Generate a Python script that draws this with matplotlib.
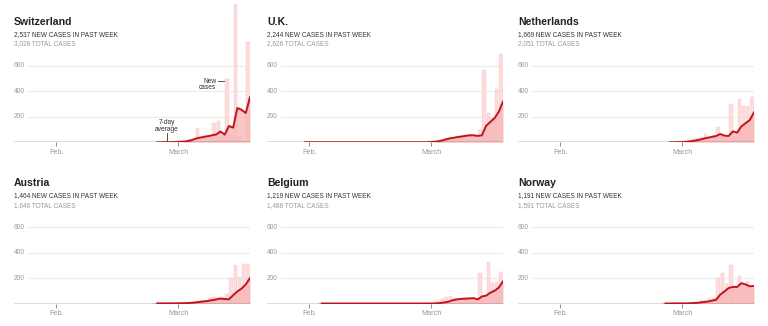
import matplotlib
matplotlib.use('Agg')
import matplotlib.pyplot as plt
import numpy as np

# --- Dados (dia 0 = 1 de fevereiro) ---
countries = ["Switzerland", "U.K.", "Netherlands", "Austria", "Belgium", "Norway"]
week_cases = ["2,537", "2,244", "1,669", "1,464", "1,219", "1,191"]
total_cases = ["3,028", "2,626", "2,051", "1,646", "1,486", "1,591"]
first_day = [24, -1, 26, 24, 3, 25]
last_day = 46

avg_switzerland = [0, 0, 1, 1, 2, 3, 5, 8, 15, 28, 36, 42, 48, 55, 62, 85,
                   60, 128, 115, 270, 255, 230, 355]
new_switzerland = [1, 0, 8, 0, 5, 8, 10, 6, 25, 20, 110, 30, 60, 40, 150, 165,
                   45, 500, 60, 1090, 40, 12, 790]

avg_uk = [0.3] * 30 + [3, 5, 10, 18, 28, 34, 40, 45, 50, 55, 55, 50, 55, 130,
                       160, 190, 240, 320]
new_uk = [2, 0, 0, 0, 0, 0, 0, 1, 0, 1, 1, 0, 0, 0, 0, 0, 0, 0, 0, 0, 0, 0, 0,
          0, 0, 0, 0, 4, 0, 3, 10, 5, 12, 20, 30, 40, 35, 50, 45, 60, 60, 48,
          100, 565, 233, 190, 418, 690]

avg_netherlands = [0, 0, 1, 2, 4, 8, 13, 20, 28, 36, 42, 49, 65, 52, 50, 86,
                   76, 125, 150, 175, 235]
new_netherlands = [0, 1, 4, 6, 10, 18, 25, 30, 40, 67, 45, 60, 119, 40, 50,
                   303, 50, 341, 287, 283, 355]

avg_austria = [1, 1, 1, 1, 1, 2, 2, 3, 5, 8, 12, 16, 20, 26, 32, 39, 35, 33,
               65, 95, 117, 150, 200]
new_austria = [2, 0, 1, 1, 3, 4, 1, 8, 8, 12, 20, 25, 30, 40, 50, 52, 55, 77,
               200, 300, 208, 312, 312]

avg_belgium = [0.2] * 26 + [0, 1, 3, 8, 14, 25, 32, 36, 38, 40, 42, 32, 55,
                            62, 85, 100, 125, 174]
new_belgium = [1] + [0] * 24 + [1, 1, 6, 20, 35, 55, 60, 40, 30, 45, 40, 35,
                                20, 237, 60, 328, 160, 169, 245]

avg_norway = [0, 0, 1, 1, 1, 1, 2, 4, 7, 11, 15, 22, 29, 70, 95, 122, 130,
              130, 160, 150, 135, 138]
new_norway = [1, 0, 1, 2, 0, 2, 5, 8, 15, 25, 30, 45, 40, 200, 240, 150, 300,
              120, 213, 110, 174, 124]

avg_series = [avg_switzerland, avg_uk, avg_netherlands,
              avg_austria, avg_belgium, avg_norway]
new_series = [new_switzerland, new_uk, new_netherlands,
              new_austria, new_belgium, new_norway]

month_ticks = [0, 29]
month_labels = ["Feb.", "March"]
grid_values = [200, 400, 600]

# --- Layout (pixels) ---
W, H = 768, 326
col_left = [14, 267, 518]
row_base = [142.3, 303.5]
ax_w, ax_h = 236, 140
y_top = 1100

plt.rcParams['font.family'] = ['Liberation Sans', 'DejaVu Sans']

fig = plt.figure(figsize=(W / 100, H / 100), dpi=100)
fig.patch.set_facecolor('white')

RED = '#c0141d'
FILL = '#f7b3b3'
BAR = '#fcdcdc'
GRID = '#ececec'
GRAY = '#999999'

for i, name in enumerate(countries):
    r, c = divmod(i, 3)
    left = col_left[c]
    base = row_base[r]
    ax = fig.add_axes([left / W, (H - base) / H, ax_w / W, ax_h / H])
    ax.set_facecolor('none')
    ax.set_xlim(-10, last_day)
    ax.set_ylim(0, y_top)

    days = np.arange(first_day[i], last_day + 1)
    avg = np.array(avg_series[i], dtype=float)
    new = np.array(new_series[i], dtype=float)

    # grelha com etiquetas à esquerda
    for g in grid_values:
        ax.axhline(g, xmin=0.058, xmax=1, color=GRID, lw=0.8, zorder=0)
        ax.text(-10, g, str(g), fontsize=4.8, color=GRAY, va='center',
                ha='left')

    # barras diárias e média de 7 dias
    ax.bar(days - 0.5, new, width=0.8, color=BAR,
           edgecolor='#f9c6c6', lw=0.3, zorder=1)
    ax.fill_between(days, 0, avg, color=FILL, alpha=0.75, lw=0, zorder=2)
    ax.axhline(0, color='#555555', lw=1.0, zorder=3)
    ax.plot(days, avg, color=RED, lw=1.4, zorder=4, solid_joinstyle='round')

    ax.set_xticks(month_ticks)
    ax.set_xticklabels(month_labels, fontsize=5.2, color=GRAY)
    ax.tick_params(axis='x', length=3, width=0.6, color='#777777', pad=2)
    ax.set_yticks([])
    for s in ax.spines.values():
        s.set_visible(False)

    # títulos
    tx = left / W
    fig.text(tx, 1 - (base - 120.3) / H, name, fontsize=7.6,
             fontweight='bold', color='#222222', va='center', ha='left')
    fig.text(tx, 1 - (base - 108) / H, f"{week_cases[i]} NEW CASES IN PAST WEEK",
             fontsize=4.7, color='#333333', va='center', ha='left')
    fig.text(tx, 1 - (base - 98.3) / H, f"{total_cases[i]} TOTAL CASES",
             fontsize=4.7, color=GRAY, va='center', ha='left')

    if name == "Switzerland":
        ax.text(26.3, 130, "7-day\naverage", fontsize=4.8, color='#333333',
                ha='center', va='center', linespacing=0.95)
        ax.plot([26.3, 26.3], [12, 70], color='#333333', lw=0.6)
        ax.text(38.0, 455, "New\ncases", fontsize=4.8, color='#333333',
                ha='right', va='center', linespacing=0.95)
        ax.plot([38.5, 39.9], [478, 478], color='#333333', lw=0.6)

plt.savefig("out.png", dpi=100)
